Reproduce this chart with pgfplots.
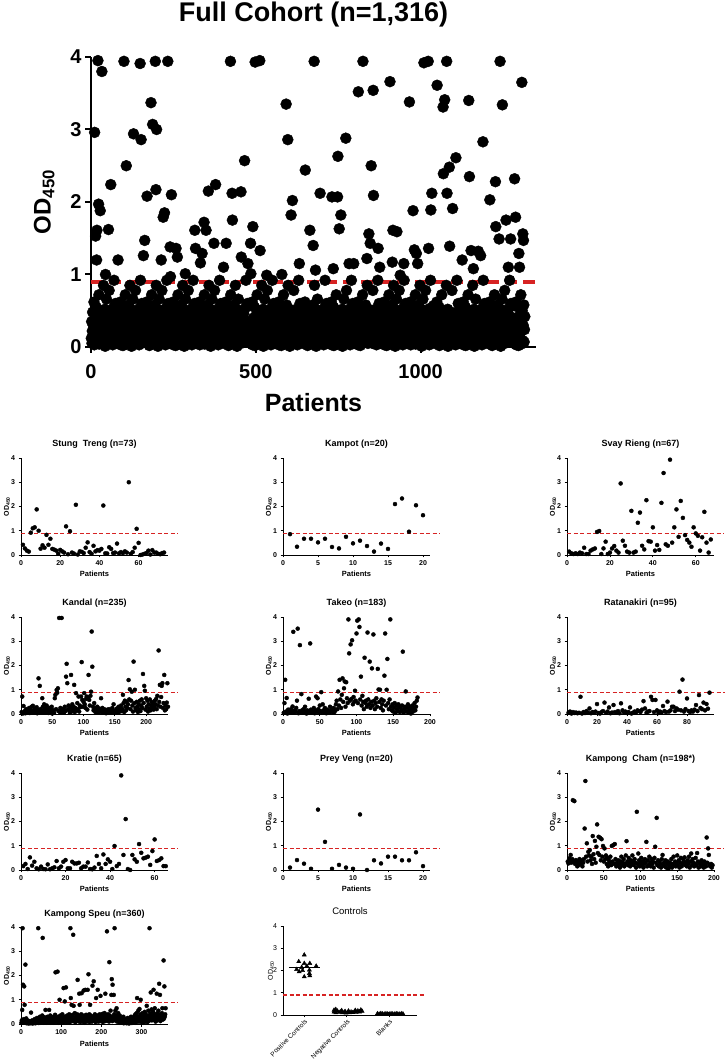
\documentclass[border=0pt]{standalone}
\usepackage{fontspec}
\setmainfont{Liberation Sans}
\usepackage{pgfplots}
\usepackage{pgfplotstable}
\pgfplotsset{compat=1.18}
\definecolor{cutred}{RGB}{215,35,35}

% each table: 10 patients per row, patient number = 10*row + column + 1
\pgfplotstableread[header=false]{
0.12 0.35 0.05 0.22 0.48 0.08 0.30 0.15 0.62 0.03
2.96 0.06 0.40 1.53 0.10 0.55 1.20 1.61 0.14 0.38
3.95 0.45 1.97 0.72 0.04 0.33 0.16 1.88 0.09 0.26
0.30 0.11 3.80 0.07 0.24 0.42 0.13 0.85 0.19 0.05
0.17 0.52 0.01 1.00 0.21 0.10 0.66 0.27 0.44 0.12
0.40 0.14 1.62 0.05 0.78 0.31 0.09 0.47 0.20 2.24
0.06 0.29 0.46 0.15 0.37 0.03 0.53 0.18 0.25 0.92
0.22 0.09 0.32 0.60 0.13 0.41 0.07 0.26 0.57 0.16
0.12 1.20 0.05 0.22 0.48 0.08 0.30 0.15 0.62 0.03
0.25 0.06 0.40 0.18 0.10 0.55 0.02 0.28 0.14 3.94
0.08 0.45 0.20 0.72 0.04 0.33 2.50 0.50 0.09 0.26
0.30 0.11 0.58 0.07 0.24 0.42 0.13 0.85 0.19 0.05
0.17 0.52 0.01 0.36 0.21 0.10 0.66 0.27 2.94 0.12
0.40 0.14 0.23 0.05 0.78 0.31 0.09 0.47 0.20 0.34
0.06 0.29 0.46 0.15 0.37 0.03 0.53 0.18 3.91 0.92
0.22 2.86 0.32 0.60 0.13 0.41 0.07 0.26 1.26 0.16
0.12 0.35 1.47 0.22 0.48 0.08 0.30 0.15 0.62 2.08
0.25 0.06 0.40 0.18 0.10 0.55 0.02 0.28 0.14 0.38
0.08 3.37 0.20 0.72 0.04 0.33 3.07 0.50 0.09 0.26
0.30 0.11 0.58 0.07 3.94 0.42 2.17 0.85 3.00 0.05
0.17 0.52 0.01 0.36 0.21 0.10 0.66 0.27 0.44 0.12
0.40 0.14 1.20 0.05 0.78 0.31 0.09 0.47 1.79 0.34
0.06 0.29 1.85 0.15 0.37 0.03 0.53 0.18 0.25 0.92
0.22 0.09 3.94 0.60 0.13 0.41 0.07 0.26 0.57 1.38
0.97 0.35 0.05 2.10 0.48 0.08 0.30 0.15 0.62 0.03
0.25 0.06 0.40 0.18 0.10 0.55 0.02 1.36 0.14 0.38
0.08 1.24 0.20 0.72 0.04 0.33 0.16 0.50 0.09 0.26
0.30 0.11 0.58 0.07 0.24 0.42 0.13 0.85 0.19 0.05
0.17 0.52 0.01 0.36 0.21 1.01 0.66 0.27 0.44 0.12
0.40 0.14 0.23 0.05 0.78 0.31 0.09 0.47 0.20 0.34
0.06 0.29 0.46 0.15 0.37 0.03 0.53 0.18 0.25 0.92
0.22 0.09 0.32 0.60 1.61 0.41 1.36 0.26 0.57 0.16
0.12 0.35 0.05 0.22 0.48 0.08 0.30 0.15 0.62 0.03
0.25 1.16 0.40 0.18 0.10 0.55 1.29 0.28 0.14 0.38
0.08 0.45 1.72 0.72 0.04 0.33 0.16 0.50 1.61 0.26
0.30 0.11 0.58 0.07 0.24 2.15 0.13 0.85 0.19 0.05
0.17 0.52 0.01 0.36 0.21 0.10 0.66 0.27 0.44 0.12
0.40 0.14 1.43 0.05 0.78 0.31 0.09 2.24 0.20 0.34
0.06 0.29 0.46 0.15 0.37 0.03 0.53 0.18 0.25 0.92
0.22 0.09 0.32 0.60 0.13 0.41 0.07 0.26 0.57 0.16
0.12 1.10 0.05 0.22 0.48 0.08 0.30 0.15 0.62 1.43
0.25 0.06 0.40 0.18 0.10 0.55 0.02 0.28 0.14 0.38
0.08 0.45 3.94 0.72 0.04 0.33 0.16 2.12 1.75 0.26
0.30 0.11 0.58 0.07 0.24 0.42 0.13 0.85 0.19 0.05
0.17 0.52 0.01 0.36 0.21 0.10 0.66 0.27 0.44 0.12
0.40 0.14 0.23 0.05 2.14 1.24 0.09 0.47 0.20 0.34
0.06 0.29 0.46 0.15 0.37 2.57 0.53 0.18 0.25 0.92
0.22 0.09 0.32 0.60 0.13 1.15 0.07 0.26 0.57 0.16
0.12 0.35 0.05 1.43 1.01 0.08 0.30 0.15 0.62 0.03
1.66 0.06 0.40 0.18 0.10 0.55 0.02 3.93 0.14 0.38
0.08 0.45 0.20 0.72 0.04 0.33 0.16 0.50 0.09 0.26
0.30 3.95 1.33 0.07 0.24 0.42 0.13 0.85 0.19 0.05
0.17 0.52 0.01 0.36 0.21 0.10 0.66 0.27 0.44 0.12
0.40 0.14 0.99 0.05 0.78 0.31 0.09 0.47 0.20 0.34
0.06 0.29 0.46 0.15 0.37 0.03 0.53 0.18 0.25 0.92
0.22 0.09 0.32 0.60 0.13 0.41 0.07 0.26 0.57 0.16
0.12 0.35 0.05 0.22 0.48 0.08 0.30 0.15 0.62 0.03
0.25 0.06 0.40 0.18 0.10 0.55 0.02 0.28 1.00 0.38
0.08 0.45 0.20 0.72 0.04 0.33 0.16 0.50 0.09 0.26
0.30 3.35 0.58 0.07 0.24 0.42 2.86 0.85 0.19 0.05
0.17 0.52 0.01 0.36 0.21 0.10 1.82 0.27 0.44 0.12
2.02 0.14 0.23 0.05 0.78 0.31 0.09 0.47 0.20 0.34
0.06 0.29 0.46 0.15 0.37 0.03 0.53 0.18 0.25 0.92
0.22 1.15 0.32 0.60 0.13 0.41 0.07 0.26 0.57 0.16
0.12 0.35 0.05 0.22 0.48 0.08 0.30 0.15 0.62 2.44
0.25 0.06 0.40 0.18 0.10 0.55 0.02 0.28 0.14 0.38
0.08 0.45 0.20 1.61 0.04 0.33 0.16 0.50 0.09 0.26
0.30 0.11 0.58 1.40 0.24 0.42 3.94 0.85 0.19 0.05
1.06 0.52 0.01 0.36 0.21 0.10 0.66 0.27 0.44 0.12
0.40 0.14 0.23 0.05 2.12 0.31 0.09 0.47 0.20 0.34
0.06 0.29 0.46 0.15 0.37 0.03 0.53 0.18 0.25 0.92
0.22 0.09 0.32 0.60 0.13 0.41 0.07 0.26 0.57 0.16
0.12 0.35 0.05 0.22 0.48 0.08 0.30 0.15 0.62 0.03
2.07 0.06 0.40 0.18 1.08 0.55 0.02 0.28 0.14 0.38
0.08 0.45 0.20 0.72 0.04 0.33 0.16 2.07 2.63 0.26
0.30 0.11 1.63 0.07 0.24 0.42 0.13 1.82 0.19 0.05
0.17 0.52 0.01 0.36 0.21 0.10 0.66 0.27 0.44 0.12
0.40 0.14 2.88 0.05 0.78 0.31 0.09 0.47 0.20 0.34
0.06 0.29 1.15 0.15 0.37 0.03 0.53 0.18 0.25 0.92
0.22 0.09 0.32 0.60 0.13 0.41 1.15 0.26 0.57 0.16
0.12 0.35 0.05 0.22 0.48 0.08 0.30 0.15 0.62 0.03
3.52 0.06 0.40 0.18 0.10 0.55 0.02 0.28 0.14 0.38
0.08 0.45 0.20 0.72 3.94 0.33 0.16 0.50 0.09 0.26
0.30 0.11 0.58 0.07 0.24 0.42 1.22 0.85 0.19 0.05
0.17 0.52 1.56 0.36 0.21 0.10 1.43 0.27 0.44 2.50
0.40 0.14 0.23 0.05 0.78 3.54 2.09 0.47 0.20 0.34
0.06 0.29 0.46 0.15 0.37 0.03 0.53 0.18 0.25 0.92
1.36 0.09 0.32 0.60 0.13 1.10 0.07 0.26 0.57 0.16
0.12 0.35 0.05 0.22 0.48 0.08 0.30 0.15 0.62 0.03
0.25 0.06 0.40 0.18 0.10 0.55 0.02 0.28 0.14 0.38
0.08 0.45 0.20 0.72 0.04 0.33 3.66 0.50 0.09 0.26
0.30 0.11 0.58 1.17 0.24 1.61 0.13 0.85 0.19 0.05
0.17 0.52 0.01 0.36 0.21 0.10 0.66 1.59 0.44 0.12
0.40 0.14 0.23 0.05 0.78 0.31 0.09 0.99 0.20 0.34
0.06 0.29 0.46 0.15 0.37 0.03 0.53 0.18 1.15 0.92
0.22 0.09 0.32 0.60 0.13 0.41 0.07 0.26 0.57 0.16
0.12 0.35 0.05 0.22 0.48 3.38 0.30 0.15 0.62 0.03
0.25 0.06 0.40 0.18 0.10 0.55 1.88 0.28 0.14 0.38
1.34 0.45 0.20 0.72 0.04 0.33 1.29 0.50 0.09 0.26
1.15 0.11 0.58 0.07 0.24 0.42 0.13 0.85 0.19 0.05
0.17 0.52 0.01 0.36 0.21 0.10 0.66 0.27 0.44 3.92
0.40 0.14 0.23 0.05 0.78 0.31 0.09 0.47 0.20 0.34
0.06 0.29 3.94 1.36 0.37 0.03 0.53 0.18 0.25 0.92
1.89 0.09 0.32 2.12 0.13 0.41 0.07 0.26 0.57 0.16
0.12 0.35 0.05 0.22 0.48 0.08 0.30 0.15 0.62 3.61
0.25 0.06 0.40 0.18 0.10 0.55 0.02 0.28 0.14 0.38
0.08 0.45 0.20 0.72 0.04 0.33 0.16 3.31 2.39 0.26
0.30 0.11 3.41 0.07 0.24 0.42 0.13 0.85 3.94 2.12
0.17 0.52 0.01 0.36 0.21 0.10 2.48 1.39 0.44 0.12
0.40 0.14 0.23 0.05 0.78 0.31 1.91 0.47 0.20 0.34
0.06 0.29 0.46 0.15 0.37 0.03 2.61 0.18 0.25 0.92
0.22 0.09 0.32 0.60 0.13 0.41 0.07 0.26 0.57 0.16
0.12 0.35 0.05 0.22 0.48 1.20 0.30 0.15 0.62 0.03
0.25 0.06 0.40 0.18 0.10 0.55 0.02 0.28 0.14 0.38
0.08 0.45 0.20 0.72 0.04 3.40 0.16 2.35 0.09 0.26
0.30 0.11 1.33 0.07 0.24 0.42 0.13 0.85 0.19 1.08
0.17 0.52 0.01 0.36 0.21 0.10 0.66 0.27 0.44 0.12
0.40 0.14 0.23 0.05 1.32 0.31 0.09 0.47 0.20 0.34
0.06 1.26 0.46 0.15 0.37 0.03 0.53 0.18 2.83 0.92
0.22 0.09 0.32 0.60 0.13 0.41 0.07 0.26 0.57 0.16
0.12 0.35 0.05 0.22 0.48 0.08 0.30 0.15 0.62 2.03
0.25 0.06 0.40 0.18 0.10 0.55 0.02 0.28 0.14 0.38
0.08 0.45 0.20 0.72 0.04 0.33 2.28 1.66 0.09 0.26
0.30 0.11 0.58 0.07 0.24 0.42 0.13 1.49 0.19 0.05
3.94 0.52 0.01 0.36 0.21 0.10 0.66 3.34 0.44 0.12
0.40 0.14 0.23 0.05 0.78 0.31 0.09 0.47 1.75 0.34
0.06 0.29 0.46 0.15 0.37 1.10 0.53 0.18 0.25 0.92
0.22 0.09 1.49 0.60 0.13 0.41 0.07 0.26 0.57 0.16
0.12 0.35 0.05 0.22 2.32 0.08 0.30 1.79 0.62 0.03
0.25 0.06 0.40 0.18 0.10 0.55 0.02 1.29 0.14 1.10
0.08 0.45 0.20 0.72 0.04 0.33 3.65 0.50 0.09 1.56
0.30 1.47 0.58 0.07 0.24 0.42 nan nan nan nan
}\tFull

\pgfplotstableread[header=false]{
0.42 0.27 0.18 0.14 0.92 1.10 1.14 1.88 1.00 0.26
0.40 0.30 0.83 0.42 0.67 0.25 0.22 0.18 0.05 0.21
0.15 0.10 1.18 0.03 0.98 0.10 0.06 2.07 0.02 0.15
0.13 0.08 0.30 0.52 0.12 0.05 0.38 0.15 0.20 0.18
0.25 2.04 0.07 0.06 0.32 0.25 0.08 0.10 0.47 0.07
0.12 0.08 0.15 0.10 3.00 0.05 0.12 0.30 1.08 0.50
0.00 0.02 0.05 0.08 0.18 0.02 0.20 0.10 0.10 0.05
0.03 0.08 0.10 nan nan nan nan nan nan nan
}\tStung

\pgfplotstableread[header=false]{
0.86 0.34 0.67 0.67 0.52 0.67 0.33 0.27 0.75 0.48
0.59 0.37 0.14 0.47 0.25 2.10 2.33 0.96 2.05 1.64
}\tKampot

\pgfplotstableread[header=false]{
0.14 0.07 0.04 0.07 0.04 0.10 0.07 0.30 0.04 0.04
0.18 0.23 0.27 0.95 0.99 0.04 0.27 0.55 0.04 0.10
0.27 0.37 0.18 0.10 2.95 0.59 0.38 0.14 0.10 1.82
0.10 0.14 1.33 1.75 0.38 0.23 2.26 0.57 0.55 1.14
0.18 0.41 0.21 2.15 3.38 0.44 0.38 3.93 0.51 1.14
1.88 0.75 2.23 1.53 0.82 0.62 0.51 0.34 1.14 0.89
0.79 0.18 0.73 1.78 0.51 0.10 0.64 nan nan nan
}\tSvay

\pgfplotstableread[header=false]{
0.08 0.72 0.02 0.33 0.05 0.12 0.03 0.20 0.07 0.15
0.05 0.10 0.25 0.04 0.18 0.08 0.30 0.12 0.34 0.06
0.15 0.22 0.05 0.10 0.28 0.03 0.18 1.47 0.08 1.16
0.20 0.12 0.06 0.65 0.30 0.15 0.40 0.05 0.22 0.10
0.35 0.08 0.18 0.04 0.25 0.12 0.06 0.20 0.30 0.02
0.10 0.15 0.05 0.65 0.79 0.20 0.99 0.88 1.06 0.12
3.96 0.08 0.25 0.05 3.96 0.18 0.10 0.22 0.06 0.30
0.12 1.54 2.07 1.27 0.20 0.35 0.15 0.05 0.28 1.61
0.10 0.40 0.18 0.30 1.20 0.08 0.25 0.86 0.15 0.45
0.20 0.72 0.10 0.35 0.28 0.72 2.14 0.58 0.30 0.50
0.86 0.40 0.25 0.62 0.72 0.18 0.68 1.61 0.58 0.35
0.75 0.92 3.40 1.95 0.30 0.15 0.45 0.20 0.08 0.25
0.12 0.30 0.05 0.18 0.22 0.08 0.15 0.65 0.10 0.25
0.05 0.12 0.20 0.08 0.15 0.03 0.10 0.18 0.06 0.12
0.20 0.05 0.15 0.10 0.08 0.25 0.12 0.40 0.05 0.10
0.15 0.08 0.22 0.12 0.05 0.30 0.18 0.10 0.25 0.35
0.12 0.20 0.79 0.45 0.08 0.55 0.30 0.15 0.50 0.25
0.40 1.40 0.60 1.02 0.20 0.55 0.92 0.35 0.10 2.16
0.45 1.00 0.25 0.15 0.50 0.30 0.08 0.40 0.20 0.55
0.12 0.35 0.60 0.25 1.65 0.45 1.16 0.96 0.18 0.65
0.30 0.55 0.10 0.40 0.22 0.60 0.15 0.35 0.50 0.25
0.45 0.18 0.30 0.55 0.40 0.62 0.20 0.75 0.35 2.62
0.50 1.20 0.30 0.70 1.16 1.27 0.25 0.45 1.61 0.15
0.35 0.20 0.47 1.27 0.30 nan nan nan nan nan
}\tKandal

\pgfplotstableread[header=false]{
0.05 0.45 1.41 0.10 0.66 0.02 0.18 0.08 0.12 0.05
0.20 0.08 0.31 3.39 0.05 0.15 0.10 0.25 0.55 3.52
0.03 0.12 2.84 0.08 0.82 0.15 0.05 0.20 0.10 0.30
0.08 0.02 0.15 0.05 0.63 0.10 2.91 0.18 0.05 0.12
0.08 0.25 0.03 0.15 0.72 0.10 0.65 0.20 0.05 0.35
0.12 0.90 0.08 0.40 0.15 0.05 0.25 0.10 0.03 0.18
0.08 0.12 0.05 0.30 0.10 0.20 0.15 0.05 0.25 0.08
0.15 0.40 0.55 0.20 0.93 0.35 1.41 0.60 0.25 0.79
1.47 0.50 1.06 1.34 0.30 1.31 0.65 0.45 3.90 2.50
0.55 2.87 0.62 3.04 0.40 0.70 0.50 0.96 0.55 3.32
3.85 0.45 3.90 3.59 0.60 1.54 0.35 0.75 0.50 0.20
2.32 0.45 0.55 0.30 3.36 0.60 0.40 2.16 0.25 0.50
1.88 0.35 3.28 0.55 0.20 0.45 0.65 0.30 1.86 1.01
0.50 1.00 0.25 0.60 0.40 0.15 0.55 1.58 3.32 0.35
1.00 2.27 0.45 0.20 0.60 3.90 0.30 0.15 0.40 0.10
0.25 0.45 0.05 0.35 0.20 0.12 0.40 0.30 0.08 0.25
0.15 0.35 2.57 0.05 0.20 0.30 0.93 0.10 0.25 0.40
0.05 0.15 0.30 0.02 0.20 0.35 0.10 0.25 0.45 0.15
0.30 0.55 0.68 nan nan nan nan nan nan nan
}\tTakeo

\pgfplotstableread[header=false]{
0.05 0.10 0.02 0.08 0.04 0.06 0.03 0.05 0.71 0.02
0.08 0.04 0.12 0.05 0.23 0.03 0.08 0.05 0.10 0.41
0.04 0.02 0.08 0.12 0.47 0.05 0.10 0.27 0.03 0.06
0.37 0.08 0.05 0.12 0.03 0.44 0.15 0.06 0.10 0.04
0.08 0.27 0.02 0.05 0.10 0.06 0.15 0.12 0.08 0.18
0.53 0.23 0.05 0.10 0.12 0.71 0.58 0.08 0.58 0.15
0.04 0.10 0.06 0.33 0.12 0.08 0.51 0.10 0.15 0.30
0.30 0.12 0.23 0.18 0.92 0.15 1.42 0.10 0.20 0.64
0.12 0.08 0.15 0.10 0.18 0.37 0.12 0.78 0.25 0.20
0.47 0.15 0.41 0.22 0.88 nan nan nan nan nan
}\tRatana

\pgfplotstableread[header=false]{
0.16 0.25 0.04 0.52 0.18 0.34 0.07 0.03 0.14 0.04
0.03 0.23 0.03 0.07 0.11 0.37 0.07 0.14 0.34 0.41
0.07 0.07 0.34 0.27 0.27 0.30 0.07 0.14 0.14 0.31
0.04 0.03 0.10 0.58 0.25 0.07 0.64 0.25 0.44 0.34
0.04 0.99 0.16 0.25 3.90 0.62 2.10 0.04 0.00 0.62
0.44 0.34 1.07 0.71 0.48 0.51 0.55 0.21 0.78 1.26
0.37 0.41 0.48 0.16 0.16 nan nan nan nan nan
}\tKratie

\pgfplotstableread[header=false]{
0.10 0.41 0.26 0.05 2.49 1.16 0.05 0.21 0.10 0.05
2.29 0.00 0.40 0.27 0.55 0.55 0.40 0.40 0.73 0.16
}\tPrey

\pgfplotstableread[header=false]{
0.35 0.27 0.48 0.40 0.62 0.30 0.45 2.88 0.35 2.84
0.25 0.41 0.30 0.15 0.35 0.20 0.45 0.28 0.27 0.40
0.15 0.30 0.45 1.71 3.67 0.55 1.10 0.35 0.75 0.60
0.82 0.40 0.55 0.25 1.40 0.65 0.45 1.20 0.30 0.96
1.88 0.70 1.37 0.62 1.33 0.40 1.27 0.55 0.99 0.35
0.89 0.45 0.60 0.25 0.50 0.15 0.40 0.30 0.55 0.20
0.99 0.35 1.03 0.25 1.07 0.45 0.15 0.30 0.20 0.40
0.25 0.10 0.35 0.55 0.20 0.30 0.45 0.15 0.25 0.60
1.19 0.35 0.20 0.50 0.30 0.15 0.40 0.25 0.60 0.35
0.20 0.45 0.30 0.10 2.40 0.25 0.68 0.40 0.15 0.30
0.50 0.20 0.35 0.10 0.25 0.45 0.30 1.16 0.15 0.40
0.20 0.55 0.30 0.15 0.45 0.25 0.35 0.10 0.50 0.96
0.30 2.15 0.20 0.40 0.15 0.35 0.25 0.10 0.45 0.62
0.20 0.30 0.15 0.40 0.10 0.25 0.35 0.05 0.20 0.30
0.15 0.45 0.10 0.25 0.55 0.20 0.35 0.15 0.30 0.60
0.20 0.40 0.10 0.30 0.50 0.15 0.25 0.45 0.35 0.52
0.20 0.30 0.15 0.40 0.25 0.55 0.10 0.35 0.68 0.20
0.45 0.30 0.15 0.25 0.50 0.20 0.70 0.35 0.10 0.30
0.25 0.15 0.40 0.20 0.30 0.10 0.35 0.25 0.15 1.34
0.30 0.89 0.62 0.20 0.15 0.25 0.10 0.20 nan nan
}\tCham

\pgfplotstableread[header=false]{
0.05 0.15 0.58 3.95 1.62 0.10 0.20 1.55 0.79 0.05
2.45 0.12 0.23 0.03 0.08 0.15 0.05 0.10 0.02 0.06
0.12 0.04 0.08 0.03 0.47 0.10 0.05 0.15 0.02 0.08
0.06 0.12 0.04 0.20 0.08 0.03 0.15 0.05 0.10 0.25
0.06 0.12 3.95 0.04 0.18 0.08 0.30 0.05 0.12 0.20
0.08 0.15 0.35 3.55 0.10 0.22 0.05 0.28 0.12 0.18
0.58 0.10 0.25 0.05 0.15 0.30 0.08 0.20 0.12 0.58
0.22 0.10 0.35 0.05 0.18 0.28 0.12 0.08 0.25 0.15
0.30 0.05 0.18 0.12 0.38 2.13 0.10 0.25 0.20 0.08
2.16 0.15 0.30 0.05 0.22 1.00 0.12 0.35 0.18 0.08
0.28 0.15 0.40 0.10 0.25 1.48 0.05 0.20 0.93 0.30
0.12 1.51 0.22 0.08 0.35 0.18 0.10 0.28 0.15 0.40
0.05 0.25 3.95 1.07 0.20 0.79 0.30 0.12 0.38 3.68
0.75 0.18 0.10 0.45 0.25 0.08 0.30 0.15 0.22 0.40
1.82 0.12 0.35 0.20 1.25 0.79 0.08 0.28 0.15 0.40
1.27 0.22 0.10 0.35 0.18 1.38 0.30 0.05 0.25 1.41
0.15 0.38 0.20 0.10 0.30 1.41 0.12 2.05 0.25 0.40
0.08 0.79 0.22 0.35 0.15 0.28 0.10 1.58 0.30 0.18
1.76 0.25 0.12 0.40 0.20 0.08 1.07 0.30 0.15 0.35
1.41 0.22 0.10 0.28 0.18 0.40 0.12 1.16 0.25 0.35
0.15 0.30 0.42 0.08 0.22 0.35 0.18 0.45 0.28 1.25
0.12 0.38 0.20 3.82 0.30 0.15 0.40 0.25 0.10 2.55
0.35 0.18 0.55 0.28 1.20 1.85 0.12 1.62 0.30 0.22
1.20 0.40 3.95 0.15 0.55 0.25 0.35 0.65 0.10 0.30
0.20 0.45 0.12 0.28 0.05 0.35 0.18 0.10 0.25 0.08
0.15 0.05 0.22 0.10 0.30 0.03 0.12 0.18 0.05 0.08
0.20 0.10 0.03 0.15 0.06 0.25 0.08 0.12 0.02 0.10
0.05 0.18 0.08 0.30 0.12 0.04 0.22 0.10 0.15 0.06
0.25 0.08 0.35 0.12 0.40 0.05 0.20 0.45 1.07 0.15
0.30 0.55 0.10 0.25 0.62 0.18 0.40 1.00 0.08 0.28
0.35 0.12 0.45 0.20 0.05 0.30 0.15 0.50 0.25 0.10
0.40 0.18 0.75 0.30 0.08 0.22 0.55 0.12 0.35 3.95
0.20 0.45 1.30 0.28 0.60 0.15 0.38 0.25 0.50 1.41
0.18 0.35 0.65 0.22 0.10 0.40 0.30 1.25 0.15 0.45
0.28 0.55 0.20 1.66 0.35 1.20 0.12 0.40 0.25 0.30
0.45 0.65 0.18 0.35 2.62 0.22 1.55 0.30 0.40 0.65
}\tSpeu

\pgfplotsset{
  base/.style={
    scale only axis, anchor=south west, clip=false,
    axis x line*=bottom, axis y line*=left,
    xmin=0, ymin=0, ymax=4, ytick={0,1,2,3,4},
    enlargelimits=false, tick align=outside,
    /pgf/number format/assume math mode=true,
    /pgf/number format/1000 sep={},
  },
  panel/.style={
    base, width=147pt, height=97pt,
    axis line style={line width=0.9pt},
    major tick style={line width=0.8pt, black},
    major tick length=2.5pt,
    tick label style={font=\fontsize{7}{8}\selectfont\bfseries},
    every axis title/.style={at={(0.5,1)}, anchor=base, yshift=11pt,
      font=\fontsize{9}{10}\selectfont\bfseries},
    xlabel={Patients}, ylabel={OD\textsubscript{450}},
    every axis x label/.style={at={(axis description cs:0.5,0)}, anchor=base,
      yshift=-22pt, font=\fontsize{7.5}{8}\selectfont\bfseries},
    every axis y label/.style={at={(axis description cs:-0.095,0.5)}, rotate=90,
      anchor=center, font=\fontsize{7}{8}\selectfont\bfseries},
  },
  dots/.style={only marks, mark=*, mark size=2pt, black},
  cutline/.style={cutred, dash pattern=on 4pt off 2.5pt, line width=1.3pt},
}

% #1,#2 lower left corner, #3 title, #4 xmax, #5 xticks, #6 table, #7 end of cut-off line
\newcommand{\panel}[7]{%
  \begin{axis}[panel, at={(#1pt,#2pt)}, title={#3}, xmax=#4, xtick={#5}]
    \pgfplotsinvokeforeach{0,...,9}{%
      \addplot[dots] table[x expr=\coordindex*10+##1+1, y index=##1] {#6};}
    \addplot[cutline] coordinates {(0,0.9) (#7,0.9)};
  \end{axis}}

\begin{document}
\begin{tikzpicture}
\path[use as bounding box] (0,0) rectangle (725pt,1064pt);

\begin{axis}[base, at={(91pt,717pt)}, width=445pt, height=290pt,
  xmax=1350, xtick={0,500,1000},
  axis line style={line width=2.2pt},
  major tick style={line width=2pt, black}, major tick length=6pt,
  tick label style={font=\fontsize{20}{22}\selectfont\bfseries},
  xticklabel style={yshift=-8pt},
  title={Full Cohort (n=1,316)},
  every axis title/.style={at={(0.5,1)}, anchor=base, yshift=35pt,
    font=\fontsize{27}{29}\selectfont\bfseries},
  xlabel={Patients}, ylabel={OD\textsubscript{450}},
  every axis x label/.style={at={(axis description cs:0.5,0)}, anchor=base,
    yshift=-65pt, font=\fontsize{25}{28}\selectfont\bfseries},
  every axis y label/.style={at={(axis description cs:-0.105,0.5)}, rotate=90,
    anchor=center, font=\fontsize{24}{26}\selectfont\bfseries},
]
  \pgfplotsinvokeforeach{0,...,9}{%
    \addplot[only marks, mark=*, mark size=5.5pt, black]
      table[x expr=\coordindex*10+#1+1, y index=#1] {\tFull};}
  \addplot[cutline, line width=4pt, dash pattern=on 12pt off 6pt] coordinates {(0,0.9) (1350,0.9)};
\end{axis}

\panel{21}{509}{Stung\ \ Treng (n=73)}{75}{0,20,40,60}{\tStung}{80}
\panel{283}{509}{Kampot (n=20)}{21}{0,5,10,15,20}{\tKampot}{22.4}
\panel{567}{509}{Svay Rieng (n=67)}{68.5}{0,20,40,60}{\tSvay}{73}
\panel{21}{350}{Kandal (n=235)}{235}{0,50,100,150,200}{\tKandal}{251}
\panel{283}{350}{Takeo (n=183)}{200}{0,50,100,150,200}{\tTakeo}{214}
\panel{567}{350}{Ratanakiri (n=95)}{98}{0,20,40,60,80}{\tRatana}{105}
\panel{21}{194}{Kratie (n=65)}{66}{0,20,40,60}{\tKratie}{70.5}
\panel{283}{194}{Prey Veng (n=20)}{21}{0,5,10,15,20}{\tPrey}{22.4}
\panel{567}{194}{Kampong\ \ Cham (n=198*)}{200}{0,50,100,150,200}{\tCham}{214}
\panel{21}{40}{Kampong Speu (n=360)}{366}{0,100,200,300}{\tSpeu}{391}

\begin{axis}[base, at={(283pt,49pt)}, width=134pt, height=89pt,
  xmin=0.5, xmax=3.65, xtick={1,2,3},
  xticklabels={Positive Controls, Negative Controls, Blanks},
  axis line style={line width=0.9pt},
  major tick style={line width=0.8pt, black}, major tick length=2.5pt,
  tick label style={font=\fontsize{7}{8}\selectfont},
  xticklabel style={rotate=45, anchor=north east, inner sep=1pt,
    font=\fontsize{6.5}{7}\selectfont},
  title={Controls},
  every axis title/.style={at={(0.5,1)}, anchor=base, yshift=11pt,
    font=\fontsize{9.5}{10}\selectfont},
  ylabel={OD\textsubscript{450}},
  every axis y label/.style={at={(axis description cs:-0.09,0.5)}, rotate=90,
    anchor=center, font=\fontsize{7}{8}\selectfont},
]
  \addplot[only marks, mark=triangle*, mark size=2.4pt, black] coordinates {
    (1.00,2.70) (0.87,2.40) (1.00,2.32) (1.13,2.32) (0.94,2.14) (1.06,2.20) (1.28,2.20)
    (0.82,2.05) (0.96,2.00) (1.12,2.02) (0.88,1.95) (1.12,1.87) (1.00,1.72) (1.13,1.77)};
  \addplot[black, line width=0.9pt] coordinates {(0.64,2.15) (1.36,2.15)};
  \addplot[only marks, mark=triangle*, mark size=2.4pt, black] coordinates {
    (1.70,0.22) (1.70,0.14) (1.74,0.25) (1.74,0.10) (1.78,0.18) (1.82,0.12) (1.86,0.15)
    (1.90,0.10) (1.94,0.13) (1.98,0.09) (2.02,0.12) (2.06,0.10) (2.10,0.14) (2.14,0.11)
    (2.18,0.16) (2.22,0.12) (2.26,0.19) (2.30,0.14) (2.33,0.23) (2.36,0.17) (1.88,0.20)
    (2.04,0.18) (2.20,0.21) (1.96,0.16)};
  \addplot[only marks, mark=triangle*, mark size=2.4pt, black] coordinates {
    (2.72,0.06) (2.76,0.04) (2.80,0.07) (2.84,0.05) (2.88,0.04) (2.92,0.06) (2.96,0.05)
    (3.00,0.04) (3.04,0.06) (3.08,0.05) (3.12,0.04) (3.16,0.06) (3.20,0.05) (3.24,0.04)
    (3.28,0.06) (3.32,0.05) (2.78,0.02) (2.98,0.02) (3.18,0.02)};
  \addplot[cutline] coordinates {(0.5,0.9) (3.84,0.9)};
\end{axis}
\end{tikzpicture}
\end{document}
